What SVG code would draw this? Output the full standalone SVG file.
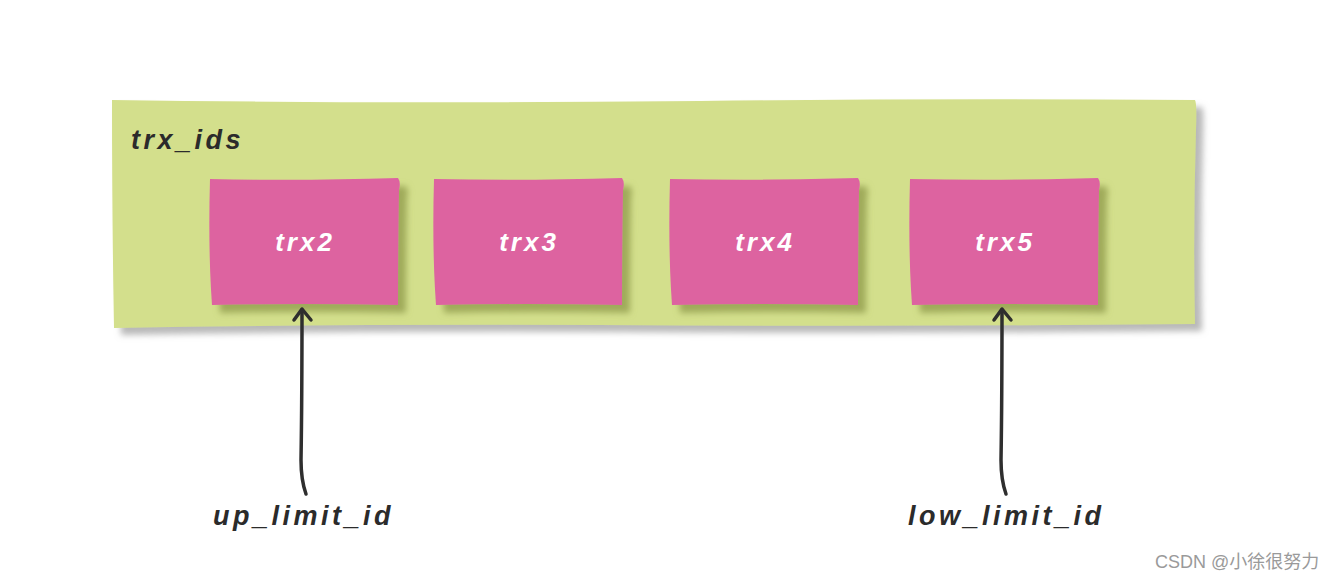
<svg xmlns="http://www.w3.org/2000/svg" width="1338" height="580" viewBox="0 0 1338 580">
<defs>
<style>
.hand{font-family:"Liberation Sans","DejaVu Sans",sans-serif;font-weight:bold;font-style:italic;font-size:27px;fill:#2b2b2b;letter-spacing:3.5px}
.w{fill:#ffffff;font-size:26px;text-anchor:middle;letter-spacing:3px}
.card{fill:#dd64a0}
.conn{fill:none;stroke:#2e2e2e;stroke-width:3.5;stroke-linecap:round;stroke-linejoin:round}
.wm{font-family:"Liberation Sans","Noto Sans CJK SC",sans-serif;font-size:18px;fill:#9a9a9a}
</style>
<filter id="sh1" x="-5%" y="-10%" width="115%" height="130%">
<feDropShadow dx="7" dy="7" stdDeviation="3" flood-color="#9a9a9a" flood-opacity="0.7"/>
</filter>
<filter id="sh2" x="-10%" y="-10%" width="130%" height="130%">
<feDropShadow dx="8" dy="8" stdDeviation="3" flood-color="#8e9a4a" flood-opacity="0.75"/>
</filter>
</defs>
<rect width="1338" height="580" fill="#ffffff"/>
<g id="trx_ids">
<path d="M112,100 Q400,104 700,101 Q950,98 1195,100 Q1197,103 1196,130 Q1193,230 1195,324 Q900,327 600,325 Q350,324 114,328 Q112,220 112,100 Z" fill="#d3df8c" filter="url(#sh1)"/>
<text class="hand" x="131" y="149" letter-spacing="6">trx_ids</text>
</g>
<g id="trx2">
<path class="card" d="M210,179 Q300,181 398,178 Q401,182 399,190 Q398,250 398,305 Q300,303 212,305 Q208,250 210,179 Z" filter="url(#sh2)"/>
<text class="hand w" x="305" y="251">trx2</text>
</g>
<g id="trx3">
<path class="card" d="M434,179 Q524,181 622,178 Q625,182 623,190 Q622,250 622,305 Q524,303 436,305 Q432,250 434,179 Z" filter="url(#sh2)"/>
<text class="hand w" x="529" y="251">trx3</text>
</g>
<g id="trx4">
<path class="card" d="M670,179 Q760,181 858,178 Q861,182 859,190 Q858,250 858,305 Q760,303 672,305 Q668,250 670,179 Z" filter="url(#sh2)"/>
<text class="hand w" x="765" y="251">trx4</text>
</g>
<g id="trx5">
<path class="card" d="M910,179 Q1000,181 1098,178 Q1101,182 1099,190 Q1098,250 1098,305 Q1000,303 912,305 Q908,250 910,179 Z" filter="url(#sh2)"/>
<text class="hand w" x="1005" y="251">trx5</text>
</g>
<g id="up_limit_id">
<text class="hand" x="213" y="525" letter-spacing="4.5">up_limit_id</text>
</g>
<g id="low_limit_id">
<text class="hand" x="908" y="525" letter-spacing="4">low_limit_id</text>
</g>
<g id="connectors">
<path class="conn" d="M306,494 Q301,480 301,460 Q302,400 302,310"/>
<path class="conn" d="M294,320 L302,309 L311,320"/>
<path class="conn" d="M1006,494 Q1001,480 1001,460 Q1002,400 1002,310"/>
<path class="conn" d="M994,320 L1002,309 L1011,320"/>
</g>
<text class="wm" x="1155" y="568">CSDN @小徐很努力</text>
</svg>
